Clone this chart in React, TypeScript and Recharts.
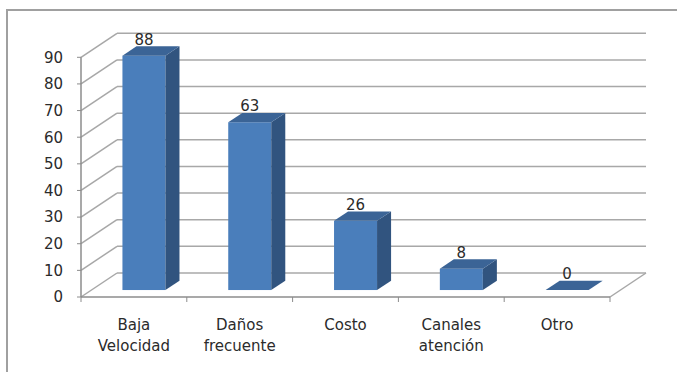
import { BarChart, Bar, XAxis, YAxis, CartesianGrid, LabelList } from 'recharts';

const categories = ['Baja Velocidad', 'Daños frecuente', 'Costo', 'Canales atención', 'Otro'];
const values = [88, 63, 26, 8, 0];
const yTicks = [0, 10, 20, 30, 40, 50, 60, 70, 80, 90];

const data = categories.map((name, i) => ({ name, value: values[i] }));

// 3D box depth (back wall offset) and where the bars sit inside it
const DX = 36;
const DY = -24;
const F1 = 0.29;
const F2 = 0.68;

const FONT = '"DejaVu Sans", Verdana, sans-serif';
const GRID = '#a8a8a8';
const TEXT = '#2b2b2b';

const Bar3D = (props: any) => {
  const { x, y, width, height } = props;
  const fx = x + DX * F1;
  const fy = y + DY * F1;
  const bx = DX * (F2 - F1);
  const by = DY * (F2 - F1);
  const bottom = fy + height;
  return (
    <g>
      {height > 0 && <rect x={fx} y={fy} width={width} height={height} fill="#4a7ebb" />}
      {height > 0 && (
        <polygon
          points={`${fx + width},${fy} ${fx + width + bx},${fy + by} ${fx + width + bx},${bottom + by} ${fx + width},${bottom}`}
          fill="#31547f"
        />
      )}
      <polygon
        points={`${fx},${fy} ${fx + bx},${fy + by} ${fx + width + bx},${fy + by} ${fx + width},${fy}`}
        fill="#3b6496"
      />
    </g>
  );
};

const BarLabel = (props: any) => {
  const { x, y, width, value } = props;
  const cx = x + width / 2 + DX * F1;
  const top = y + DY * F2;
  return (
    <text x={cx} y={top - 1.5} textAnchor="middle" fontSize={15} fontFamily={FONT} fill={TEXT}>
      {value}
    </text>
  );
};

// back wall line plus the diagonal on the left wall for every gridline
const GridLine3D = (props: any) => {
  const { x1, y1, x2, index, y, height } = props;
  const isFloor = height !== undefined ? Math.abs(y1 - (y + height)) < 0.5 : index === 0;
  return (
    <g key={`g-${index}`}>
      <line x1={x1} y1={y1} x2={x1 + DX} y2={y1 + DY} stroke={GRID} strokeWidth={1.5} />
      <line x1={x1 + DX} y1={y1 + DY} x2={x2 + DX} y2={y1 + DY} stroke={GRID} strokeWidth={1.5} />
      {isFloor && <line x1={x2} y1={y1} x2={x2 + DX} y2={y1 + DY} stroke={GRID} strokeWidth={1.5} />}
    </g>
  );
};

const XTick = (props: any) => {
  const { x, y, payload, index, visibleTicksCount } = props;
  const half = payload && payload.offset ? payload.offset : 52.9;
  const lines = String(payload.value).split(' ');
  const last = index === (visibleTicksCount ?? categories.length) - 1;
  return (
    <g>
      <line x1={x - half} y1={y} x2={x - half} y2={y + 5} stroke="#8c8c8c" />
      {last && <line x1={x + half} y1={y} x2={x + half} y2={y + 5} stroke="#8c8c8c" />}
      <text textAnchor="middle" fontSize={15} fontFamily={FONT} fill={TEXT}>
        {lines.map((t, i) => (
          <tspan key={i} x={x} y={y + 33 + i * 21}>
            {t}
          </tspan>
        ))}
      </text>
    </g>
  );
};

export default function App() {
  return (
    <div style={{ position: 'absolute', left: 0, top: 0, width: 677, height: 372, background: '#fff', overflow: 'hidden' }}>
      <div
        style={{
          position: 'absolute',
          left: 6,
          top: 9,
          width: 700,
          height: 400,
          borderLeft: '2px solid #a0a0a0',
          borderTop: '2px solid #a0a0a0',
        }}
      />
      <div style={{ position: 'absolute', left: 0, top: 0 }}>
        <BarChart width={677} height={372} data={data} margin={{ top: 57.3, right: 67, bottom: 0, left: 0 }}>
          <CartesianGrid vertical={false} horizontal={GridLine3D} />
          <XAxis
            dataKey="name"
            height={75}
            axisLine={{ stroke: '#8c8c8c', strokeWidth: 1.5 }}
            tickLine={false}
            tickSize={0}
            tickMargin={0}
            interval={0}
            tick={XTick}
          />
          <YAxis
            width={81}
            domain={[0, 90]}
            ticks={yTicks}
            interval={0}
            axisLine={{ stroke: '#8c8c8c', strokeWidth: 1.5 }}
            tickLine={{ stroke: '#8c8c8c' }}
            tickSize={4}
            tickMargin={14}
            tick={{ fontSize: 15, fontFamily: FONT, fill: TEXT }}
          />
          <Bar dataKey="value" barSize={43} shape={Bar3D} isAnimationActive={false}>
            <LabelList dataKey="value" content={BarLabel} />
          </Bar>
        </BarChart>
      </div>
    </div>
  );
}
